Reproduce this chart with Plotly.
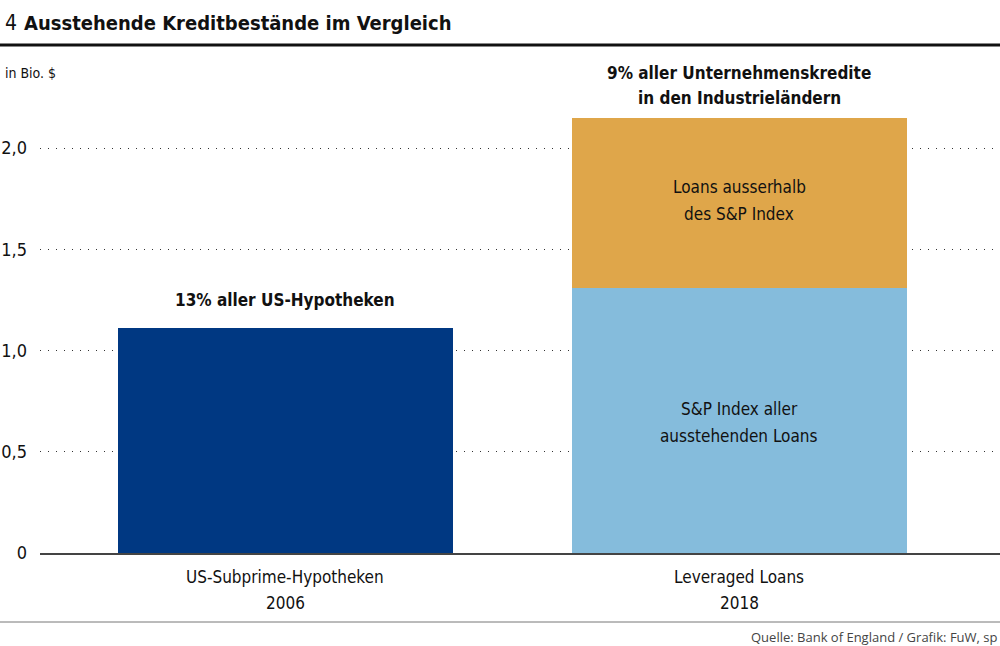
import plotly.graph_objects as go

categories = ["US-Subprime-Hypotheken", "Leveraged Loans"]
years = ["2006", "2018"]
subprime = [1.11, 0]
sp_index = [0, 1.31]
outside_sp = [0, 0.84]
y_ticks = [0, 0.5, 1.0, 1.5, 2.0]
y_ticktext = ["0", "0,5", "1,0", "1,5", "2,0"]

FONT = "Liberation Sans Narrow, DejaVu Sans Condensed, Arial Narrow, sans-serif"
xpos = [0, 1]
W = 0.738
PX = 202.5  # pixels per unit on y
Y0 = 553    # pixel row of y=0
XR = [-0.5407, 1.5738]


def yv(py):
    return (Y0 - py) / PX


fig = go.Figure()
fig.add_bar(x=xpos, y=subprime, width=W, marker=dict(color="#003882", line=dict(width=0)), hoverinfo="skip")
fig.add_bar(x=xpos, y=sp_index, width=W, marker=dict(color="#85bcdc", line=dict(width=0)), hoverinfo="skip")
fig.add_bar(x=xpos, y=outside_sp, width=W, marker=dict(color="#dfa64a", line=dict(width=0)), hoverinfo="skip")

fig.update_layout(
    barmode="stack",
    width=1000, height=646,
    margin=dict(l=40, r=0, t=60, b=93),
    paper_bgcolor="white", plot_bgcolor="white",
    showlegend=False,
    font=dict(family=FONT, color="#111", size=17),
    xaxis=dict(
        range=XR, tickvals=xpos, showticklabels=False,
        showgrid=False, zeroline=False, showline=True, linecolor="#444", linewidth=2,
        ticks="", fixedrange=True,
    ),
    yaxis=dict(
        range=[0, 2.4346], tickvals=y_ticks, ticktext=y_ticktext,
        showgrid=True, gridcolor="#333", gridwidth=1, griddash="1px,7px",
        zeroline=False, showline=False, ticks="",
        tickfont=dict(size=18, family=FONT, color="#111"), ticklabelstandoff=12, fixedrange=True,
    ),
)


def da(text, x, py, size, bold=False, color="#111"):
    t = f"<b>{text}</b>" if bold else text
    fig.add_annotation(text=t, x=x, y=yv(py), xref="x", yref="y", showarrow=False,
                       font=dict(size=size, color=color, family=FONT), xanchor="center", yanchor="middle")


def pa(text, px, py, size, xanchor="left", color="#111", family=FONT):
    fig.add_annotation(text=text, x=(px - 40) / 960, y=1 - (py - 60) / 493, xref="paper", yref="paper",
                       showarrow=False, xanchor=xanchor, yanchor="middle",
                       font=dict(size=size, color=color, family=family))


# Header
pa("4", 3, 23, 21)
pa("<b>Ausstehende Kreditbestände im Vergleich</b>", 22, 23, 20)
pa("in Bio. &#36;", 3, 73, 14)
pa("Quelle: Bank of England / Grafik: FuW, sp", 1000, 637, 13, xanchor="right",
   color="#444", family="Open Sans, DejaVu Sans, sans-serif")

# Bar annotations
da("13% aller US-Hypotheken", 0, 300, 17, bold=True)
da("9% aller Unternehmenskredite", 1, 73, 17, bold=True)
da("in den Industrieländern", 1, 98, 17, bold=True)
da("Loans ausserhalb", 1, 187, 17)
da("des S&P Index", 1, 214, 17)
da("S&P Index aller", 1, 409, 17)
da("ausstehenden Loans", 1, 436, 17)

# Category labels (below the axis, positioned in paper space from the x data value)
for i in range(len(categories)):
    xp = (xpos[i] - XR[0]) / (XR[1] - XR[0])
    for txt, py in ((categories[i], 577), (years[i], 603)):
        fig.add_annotation(text=txt, x=xp, y=1 - (py - 60) / 493, xref="paper", yref="paper",
                           showarrow=False, xanchor="center", yanchor="middle",
                           font=dict(size=17, color="#111", family=FONT))

fig.add_shape(type="line", xref="paper", yref="paper", x0=-40 / 960, x1=1,
              y0=1 + (60 - 45) / 493, y1=1 + (60 - 45) / 493, line=dict(color="#111", width=3))
fig.add_shape(type="line", xref="paper", yref="paper", x0=-40 / 960, x1=1,
              y0=-(622 - 553) / 493, y1=-(622 - 553) / 493, line=dict(color="#777", width=1))

fig.write_html("out.html", config={"displayModeBar": False},
               post_script="document.body.style.margin='0';document.body.style.overflow='hidden';")
